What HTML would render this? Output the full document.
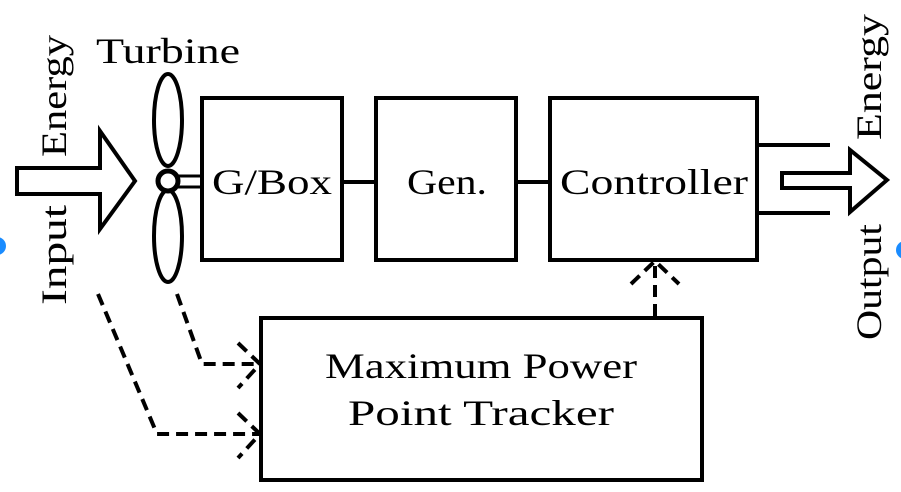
<!DOCTYPE html>
<html><head><style>body{margin:0;background:#fff}svg{display:block}</style></head><body>
<svg width="901" height="492" viewBox="0 0 901 492" xmlns="http://www.w3.org/2000/svg" font-family="Liberation Serif, serif" fill="none" stroke="#000">
<circle cx="-3" cy="246" r="9" fill="#1a8cff" stroke="none"/>
<circle cx="905" cy="250" r="9" fill="#1a8cff" stroke="none"/>
<g stroke-width="4">
<rect x="202" y="98" width="140" height="162"/>
<rect x="376" y="98" width="140" height="162"/>
<rect x="550" y="98" width="207" height="162"/>
<rect x="261" y="318" width="441" height="162"/>
<line x1="342" y1="182" x2="376" y2="182"/>
<line x1="516" y1="182" x2="550" y2="182"/>
<line x1="757" y1="145" x2="830" y2="145"/>
<line x1="757" y1="213" x2="830" y2="213"/>
<path d="M17 168 H100 V131 L135 181 L100 229 V194 H17 Z" stroke-linejoin="miter"/>
<path d="M782 173 H850 V150 L887 180 L850 212 V188 H782 Z"/>
<ellipse cx="168" cy="120" rx="14" ry="46"/>
<ellipse cx="168" cy="236" rx="14" ry="46"/>
<line x1="178" y1="176" x2="202" y2="176" stroke-width="3"/>
<line x1="178" y1="187" x2="202" y2="187" stroke-width="3"/>
<circle cx="168" cy="181" r="10" fill="#fff" stroke-width="5"/>
</g>
<g stroke-width="4" stroke-dasharray="12,7">
<polyline points="98,294 157,434 259,434"/>
<polyline points="177,294 202,364 259,364"/>
<line x1="655" y1="316" x2="655" y2="264"/>
<path d="M238 343 L260 364 L238 388"/>
<path d="M238 413 L260 434 L238 458"/>
<path d="M631 284 L655 261 L679 284"/>
</g>
<g fill="#000" stroke="none" font-size="36" stroke-width="0.6">
<text x="96" y="63" textLength="144" lengthAdjust="spacingAndGlyphs">Turbine</text>
<text x="212" y="194" textLength="120" lengthAdjust="spacingAndGlyphs">G/Box</text>
<text x="407" y="194" textLength="80" lengthAdjust="spacingAndGlyphs">Gen.</text>
<text x="560" y="194" textLength="188" lengthAdjust="spacingAndGlyphs">Controller</text>
<text x="325" y="378" textLength="312" lengthAdjust="spacingAndGlyphs">Maximum Power</text>
<text x="348" y="425" textLength="266" lengthAdjust="spacingAndGlyphs">Point Tracker</text>
<text transform="translate(66,305) rotate(-90)" textLength="100" lengthAdjust="spacingAndGlyphs">Input</text>
<text transform="translate(66,157) rotate(-90)" textLength="122" lengthAdjust="spacingAndGlyphs">Energy</text>
<text transform="translate(881,340) rotate(-90)" textLength="116" lengthAdjust="spacingAndGlyphs">Output</text>
<text transform="translate(881,140) rotate(-90)" textLength="126" lengthAdjust="spacingAndGlyphs">Energy</text>
</g>
</svg>
</body></html>
